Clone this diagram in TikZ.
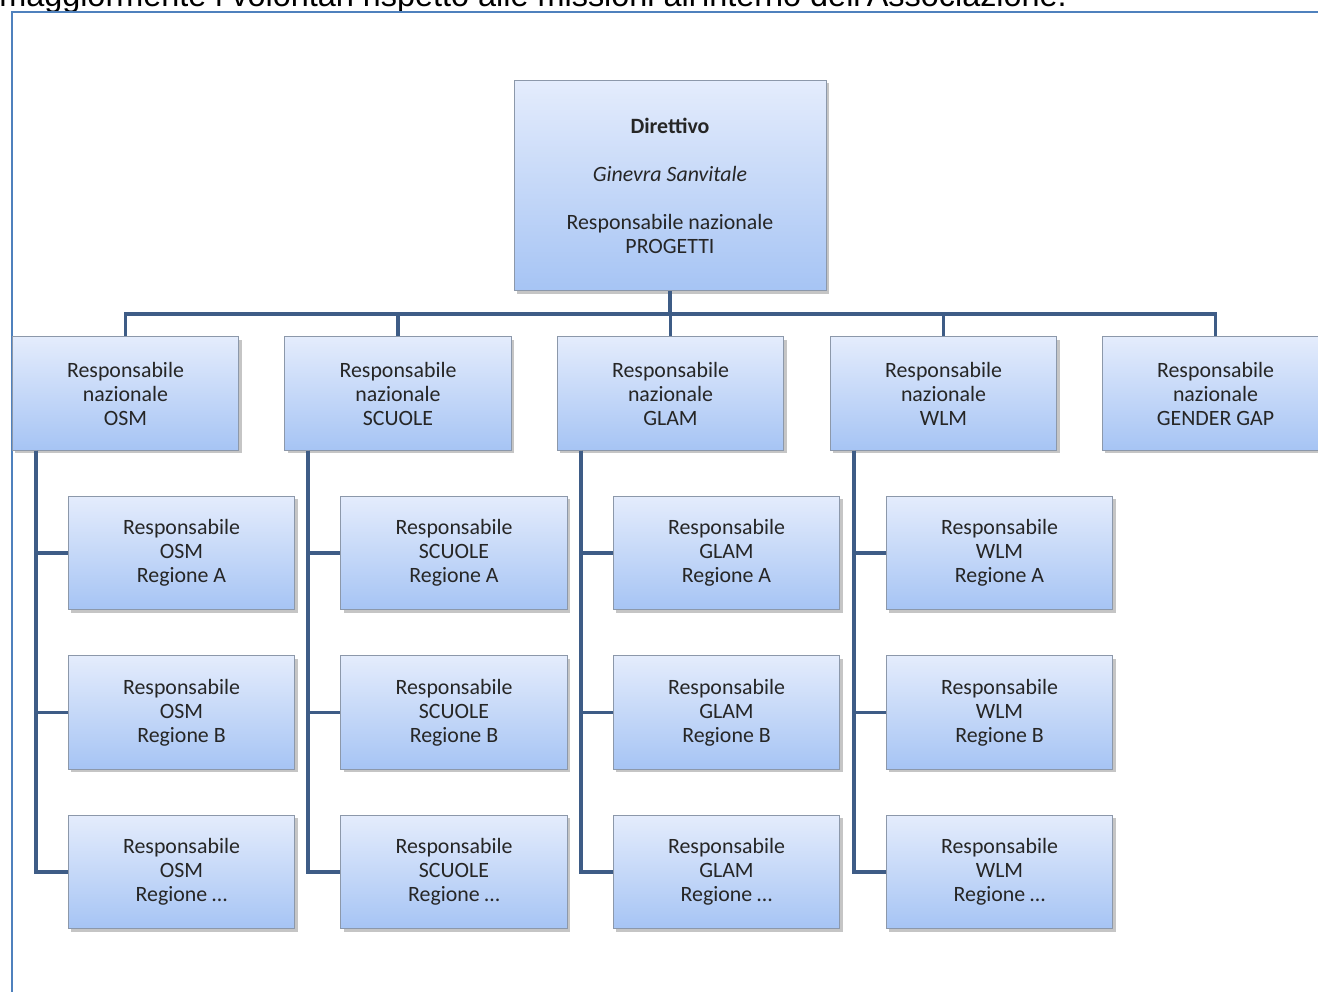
\documentclass[tikz,border=0pt]{standalone}
\usepackage{fontspec}
\setmainfont{Carlito}
\newfontfamily\introfont{Liberation Sans}
\usetikzlibrary{shadows}

\definecolor{boxtop}{RGB}{228,236,252}
\definecolor{boxbot}{RGB}{166,196,244}
\definecolor{boxline}{RGB}{140,152,170}
\definecolor{linkcol}{RGB}{62,92,134}
\definecolor{framecol}{RGB}{79,129,189}
\definecolor{txtcol}{RGB}{38,38,38}

\begin{document}
\begin{tikzpicture}[x=0.75pt, y=-0.75pt,
  box/.style={rectangle, draw=boxline, line width=0.6pt,
    top color=boxtop, bottom color=boxbot,
    drop shadow={shadow xshift=2.2pt, shadow yshift=-2.2pt, opacity=0.45},
    minimum width=170pt, minimum height=85pt, inner sep=0pt,
    align=center, text=txtcol, font=\fontsize{16.4}{18}\selectfont},
  topbox/.style={box, minimum width=234pt, minimum height=158pt},
  link/.style={draw=linkcol, line width=2.7pt},
  frame/.style={draw=framecol, line width=1.5pt}]
\clip (0,0) rectangle (1318,992);
\fill[white] (0,0) rectangle (1318,992);

% text above the frame, cut by the page
\node[anchor=base west, inner sep=0pt, font=\introfont\fontsize{24.3}{26}\selectfont]
  (intro) at (-1,7) {maggiormente i volontari rispetto alle missioni all'interno dell'Associazione.};
\draw[frame] (12,1010) |- (1340,12);

% top of the chart
\node[topbox] (dir) at (670,185.5)
  {\textbf{Direttivo}\\[18pt]\textit{Ginevra Sanvitale}\\[18pt]Responsabile nazionale\\PROGETTI};

% national heads and their regions
\foreach \c/\t/\x in {osm/OSM/125.5, scuole/SCUOLE/398, glam/GLAM/670.5, wlm/WLM/943.5} {
  \node[box] (\c) at (\x,393.5) {Responsabile\\nazionale\\\t};
  \foreach \r/\y/\lab in {a/553/A, b/712.5/B, c/872/{\ldots}} {
    \node[box] (\c-\r) at (\x+56,\y) {Responsabile\\\t\\Regione \lab};
    \draw[link] ([xshift=18pt]\c.south west) |- (\c-\r.west);
  }
}
\node[box] (gender) at (1215.5,393.5) {Responsabile\\nazionale\\GENDER GAP};

% links from the top
\foreach \n in {osm,scuole,glam,wlm,gender}
  \draw[link] (dir.south) -- ++(0,23) -| (\n.north);
\end{tikzpicture}
\end{document}
